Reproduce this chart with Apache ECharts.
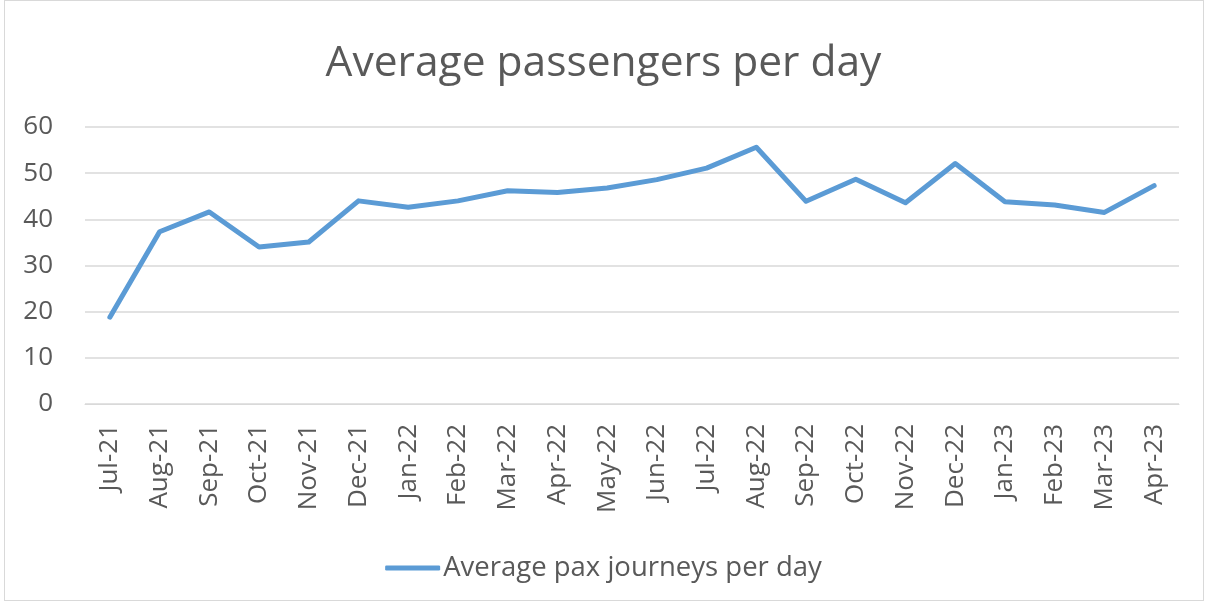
<!DOCTYPE html>
<html>
<head>
<meta charset="utf-8">
<script src="https://cdn.jsdelivr.net/npm/echarts@6/dist/echarts.min.js"></script>
<style>
  html, body { margin: 0; padding: 0; background: #fff; }
  #chart { width: 1207px; height: 605px; }
  #frame { position: absolute; left: 4px; top: 0px; width: 1200px; height: 601px; border: 1px solid #d9d9d9; box-sizing: border-box; pointer-events: none; }
</style>
</head>
<body>
<div id="chart"></div>
<div id="frame"></div>
<script>
// months on the x axis
const months = ["Jul-21", "Aug-21", "Sep-21", "Oct-21", "Nov-21", "Dec-21", "Jan-22", "Feb-22",
  "Mar-22", "Apr-22", "May-22", "Jun-22", "Jul-22", "Aug-22", "Sep-22", "Oct-22",
  "Nov-22", "Dec-22", "Jan-23", "Feb-23", "Mar-23", "Apr-23"];

// average pax journeys per day
const paxPerDay = [18.8, 37.3, 41.6, 34.0, 35.1, 44.0, 42.6, 44.0,
  46.2, 45.8, 46.8, 48.6, 51.1, 55.6, 43.9, 48.7,
  43.6, 52.1, 43.8, 43.1, 41.5, 47.3];

const seriesName = "Average pax journeys per day";
const font = "'Open Sans', sans-serif";
const textColor = "#595959";

const chart = echarts.init(document.getElementById("chart"));
chart.setOption({
  animation: false,
  title: {
    text: "Average passengers per day",
    left: "center",
    top: 37,
    textStyle: { fontFamily: font, fontSize: 42.5, fontWeight: "normal", color: textColor }
  },
  legend: {
    data: [seriesName],
    bottom: 18,
    left: "center",
    itemWidth: 55,
    itemHeight: 5,
    itemGap: 6,
    icon: "roundRect",
    textStyle: { fontFamily: font, fontSize: 27.5, color: textColor, padding: [0, 0, 0, -2] }
  },
  grid: { left: 85, right: 28, top: 127, bottom: 201, containLabel: false },
  xAxis: {
    type: "category",
    data: months,
    boundaryGap: true,
    axisLine: { lineStyle: { color: "#d9d9d9", width: 1 } },
    axisTick: { show: false },
    axisLabel: { rotate: 90, margin: 20, fontFamily: font, fontSize: 26, color: textColor }
  },
  yAxis: {
    type: "value",
    min: 0,
    max: 60,
    interval: 10,
    axisLine: { show: false },
    axisTick: { show: false },
    splitLine: { lineStyle: { color: "#d9d9d9", width: 1.5 } },
    axisLabel: { margin: 32, fontFamily: font, fontSize: 26, color: textColor }
  },
  series: [{
    name: seriesName,
    type: "line",
    data: paxPerDay,
    symbol: "none",
    lineStyle: { color: "#5b9bd5", width: 5, cap: "round", join: "round" },
    itemStyle: { color: "#5b9bd5" }
  }]
});
</script>
</body>
</html>
